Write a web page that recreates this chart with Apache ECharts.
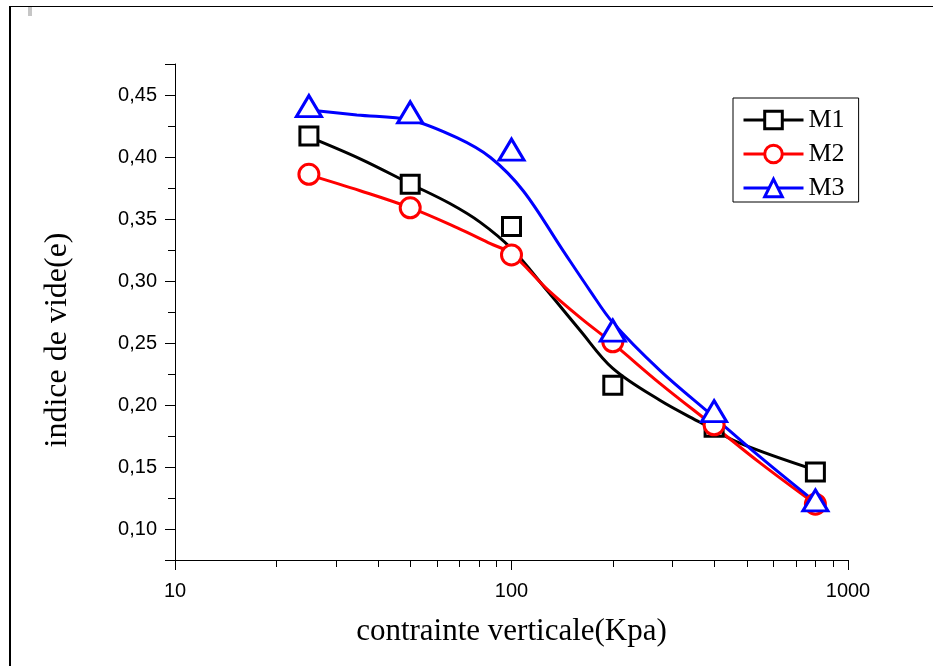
<!DOCTYPE html>
<html>
<head>
<meta charset="utf-8">
<script src="https://cdn.jsdelivr.net/npm/echarts@6/dist/echarts.min.js"></script>
<style>
  html, body { margin: 0; padding: 0; background: #fff; }
  #chart { position: absolute; left: 0; top: 0; width: 933px; height: 666px; }
  .frame-top { position: absolute; left: 9px; top: 6px; width: 924px; height: 1px; background: #000; }
  .frame-left { position: absolute; left: 9px; top: 6px; width: 2px; height: 660px; background: #000; }
  .corner-mark { position: absolute; left: 28px; top: 7px; width: 4px; height: 9px; background: #c6c6c6; }
</style>
</head>
<body>
<div id="chart"></div>
<div class="frame-top"></div>
<div class="frame-left"></div>
<div class="corner-mark"></div>
<script>
// measured points (vertical stress in kPa, void ratio e)
const pressure = [25, 50, 100, 200, 400, 800];
const m1 = [0.417, 0.378, 0.344, 0.216, 0.182, 0.146];
const m2 = [0.386, 0.359, 0.321, 0.251, 0.184, 0.120];
const m3 = [0.441, 0.436, 0.406, 0.260, 0.195, 0.123];

// fitted trend curves (stress samples and void ratio along each curve)
const m1CurveX = [25, 35.5, 50, 65.6, 80.6, 100, 127.6, 160, 200, 276, 363, 477, 800];
const m1CurveY = [0.4162, 0.3985, 0.3784, 0.3625, 0.3475, 0.3261, 0.2923, 0.2601, 0.2295, 0.2038, 0.1861, 0.1692, 0.1475];
const m2CurveX = [25, 35.5, 50, 68.8, 86.6, 100, 127.6, 160, 200, 276, 400, 549, 800];
const m2CurveY = [0.3856, 0.3728, 0.3591, 0.3430, 0.3301, 0.3221, 0.2935, 0.2705, 0.2497, 0.2175, 0.1829, 0.1531, 0.1201];
const m3CurveX = [25, 34.7, 50, 68.8, 86.6, 108.3, 142.3, 171, 200, 276, 397, 549, 800];
const m3CurveY = [0.4379, 0.4339, 0.4299, 0.4156, 0.3996, 0.3728, 0.3245, 0.2923, 0.2665, 0.2279, 0.1909, 0.1579, 0.1217];

// axis ranges and minor tick positions
const xMin = 10, xMax = 1000;
const yMin = 0.075, yMax = 0.475;
const xMinorTicks = [20, 30, 40, 50, 60, 70, 80, 90, 200, 300, 400, 500, 600, 700, 800, 900];
const yMinorTicks = [0.125, 0.175, 0.225, 0.275, 0.325, 0.375, 0.425];

const seriesNames = ['M1', 'M2', 'M3'];
const seriesColors = ['#000000', '#ff0000', '#0000ff'];
const seriesSymbols = ['rect', 'circle', 'triangle'];
const symbolSizes = [18, 20, [25, 21]];
const pointValues = [m1, m2, m3];
const curveXs = [m1CurveX, m2CurveX, m3CurveX];
const curveYs = [m1CurveY, m2CurveY, m3CurveY];

const chart = echarts.init(document.getElementById('chart'), null, { renderer: 'canvas' });

function minorTickSeries(data, dir) {
  return {
    type: 'custom',
    silent: true,
    clip: false,
    z: 3,
    data: data,
    renderItem: function (params, api) {
      const p = api.coord([api.value(0), api.value(1)]);
      const len = 7;
      let shape;
      if (dir === 'x') {
        const x = Math.round(p[0]) + 0.5;
        shape = { x1: x, y1: p[1], x2: x, y2: p[1] + len };
      } else {
        const y = Math.round(p[1]) + 0.5;
        shape = { x1: p[0] - len, y1: y, x2: p[0], y2: y };
      }
      return { type: 'line', shape: shape, style: { stroke: '#000', lineWidth: 1 } };
    }
  };
}

const series = [];
seriesNames.forEach(function (name, i) {
  series.push({
    name: name,
    type: 'line',
    smooth: 0.35,
    symbol: seriesSymbols[i],
    showSymbol: false,
    z: 2,
    lineStyle: { color: seriesColors[i], width: 3 },
    itemStyle: { color: '#fff', borderColor: seriesColors[i], borderWidth: 3 },
    data: curveXs[i].map(function (p, k) { return [p, curveYs[i][k]]; })
  });
});
seriesNames.forEach(function (name, i) {
  series.push({
    name: name,
    type: 'scatter',
    symbol: seriesSymbols[i],
    symbolSize: symbolSizes[i],
    z: 4,
    itemStyle: { color: '#fff', borderColor: seriesColors[i], borderWidth: 3, opacity: 1 },
    data: pressure.map(function (p, k) { return [p, pointValues[i][k]]; })
  });
});
series.push(minorTickSeries(xMinorTicks.map(function (v) { return [v, yMin]; }), 'x'));
series.push(minorTickSeries(yMinorTicks.map(function (v) { return [xMin, v]; }), 'y'));

const option = {
  animation: false,
  backgroundColor: 'transparent',
  grid: { left: 175, right: 85, top: 64, bottom: 106 },
  xAxis: {
    type: 'log',
    logBase: 10,
    min: xMin,
    max: xMax,
    name: 'contrainte verticale(Kpa)',
    nameLocation: 'middle',
    nameGap: 56,
    nameTextStyle: { fontFamily: 'Liberation Serif', fontSize: 31, color: '#000' },
    axisLine: { lineStyle: { color: '#000', width: 1 } },
    axisTick: { show: true, inside: false, length: 10, lineStyle: { color: '#000' } },
    axisLabel: {
      margin: 21,
      fontFamily: 'Liberation Sans',
      fontSize: 20,
      color: '#000',
      formatter: function (v) { return String(Math.round(v)); }
    },
    splitLine: { show: false },
    minorTick: { show: false }
  },
  yAxis: {
    type: 'value',
    min: yMin,
    max: yMax,
    splitNumber: 8,
    name: 'indice de vide(e)',
    nameLocation: 'middle',
    nameGap: 101,
    nameTextStyle: { fontFamily: 'Liberation Serif', fontSize: 32, color: '#000', padding: [0, 56, 0, 0] },
    axisLine: { show: true, lineStyle: { color: '#000', width: 1 } },
    axisTick: { show: true, inside: false, length: 10, lineStyle: { color: '#000' } },
    axisLabel: {
      margin: 18,
      fontFamily: 'Liberation Sans',
      fontSize: 20,
      color: '#000',
      formatter: function (v) {
        if (Math.abs(v * 20 - Math.round(v * 20)) > 1e-6) return '';
        return v.toFixed(2).replace('.', ',');
      }
    },
    splitLine: { show: false }
  },
  legend: {
    orient: 'vertical',
    left: 733,
    top: 98,
    itemWidth: 60,
    itemHeight: 22,
    itemGap: 8,
    padding: [9, 14, 1, 9],
    borderColor: '#000',
    borderWidth: 1,
    backgroundColor: '#fff',
    textStyle: { fontFamily: 'Liberation Serif', fontSize: 26, lineHeight: 26, color: '#000' },
    data: seriesNames.map(function (name, i) {
      return {
        name: name,
        itemStyle: { color: '#fff', borderColor: seriesColors[i], borderWidth: 3 },
        lineStyle: { color: seriesColors[i], width: 3 }
      };
    })
  },
  series: series
};

chart.setOption(option);
</script>
</body>
</html>
